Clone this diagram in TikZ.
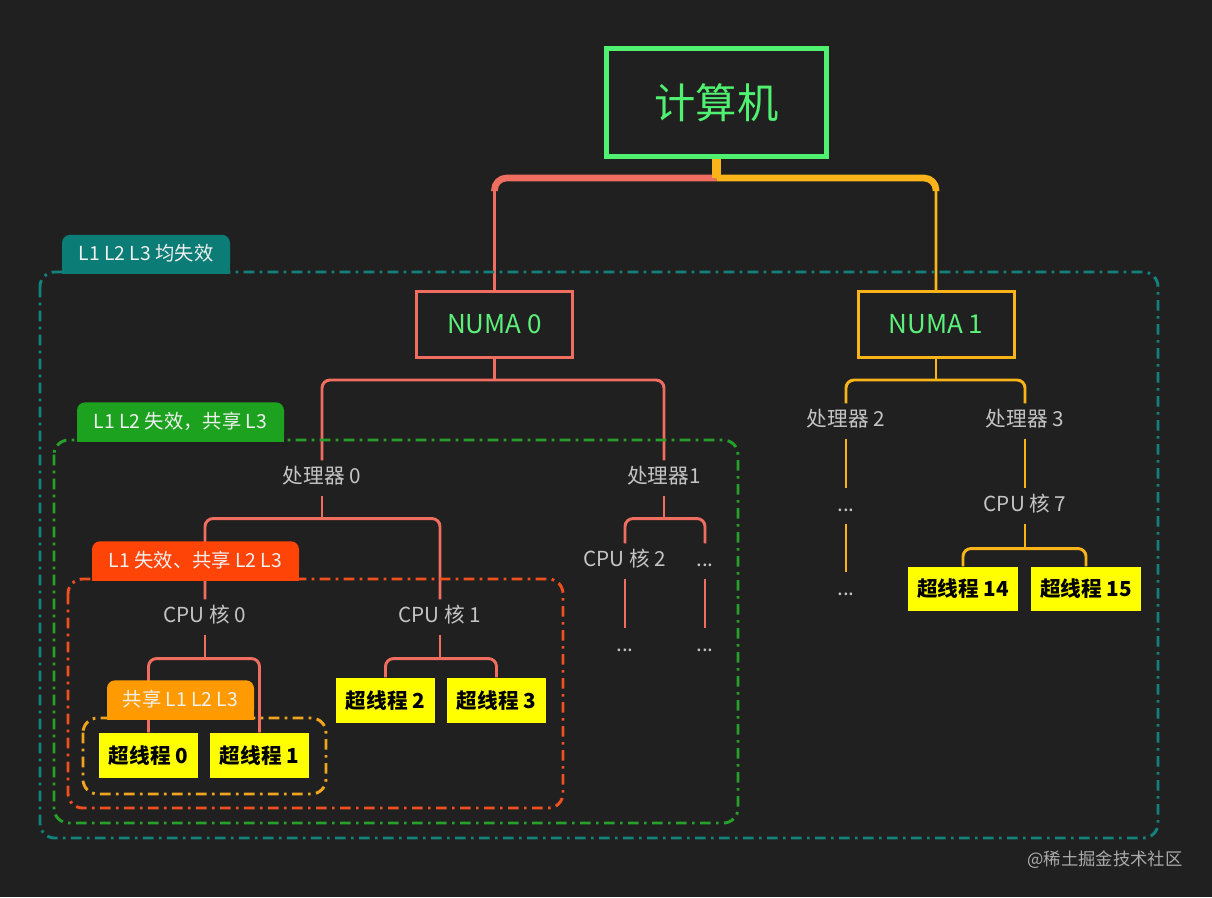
\documentclass[tikz,border=0pt]{standalone}
\usepackage{fontspec}
\setmainfont{Noto Sans CJK SC}
\usepackage{xcolor}
\usepackage{tikz}
\usetikzlibrary{shapes,arrows,positioning,calc}
\definecolor{bgDark}{RGB}{32, 32, 32}
\definecolor{rootGreen}{RGB}{80, 240, 112}
\definecolor{numaGreen}{RGB}{92, 240, 122}
\definecolor{salmonLine}{RGB}{240, 110, 95}
\definecolor{amberLine}{RGB}{250, 180, 25}
\definecolor{tealTab}{RGB}{12, 124, 118}
\definecolor{tealDash}{RGB}{18, 130, 125}
\definecolor{greenTab}{RGB}{28, 162, 30}
\definecolor{greenDash}{RGB}{38, 160, 42}
\definecolor{redTab}{RGB}{255, 68, 8}
\definecolor{redDash}{RGB}{240, 80, 30}
\definecolor{orangeTab}{RGB}{255, 155, 0}
\definecolor{orangeDash}{RGB}{240, 165, 30}
\definecolor{labelGray}{RGB}{196, 196, 196}
\definecolor{tabWhite}{RGB}{240, 240, 240}
\definecolor{htYellow}{RGB}{255, 255, 0}
\definecolor{wmGray}{RGB}{170, 170, 170}

\begin{document}
\begin{tikzpicture}[x=0.75pt, y=-0.75pt, thick]
    \tikzstyle{rootbox} = [rectangle, draw=rootGreen, line width=3.75pt, minimum width=165pt, minimum height=81pt, text=rootGreen, font=\fontsize{31}{36}\selectfont]
    \tikzstyle{numabox} = [rectangle, line width=2.25pt, minimum width=117pt, minimum height=49.5pt, text=numaGreen, font=\fontsize{19.5}{23}\selectfont]
    \tikzstyle{itemtext} = [text=labelGray, font=\fontsize{15.5}{18}\selectfont, minimum height=25.5pt, inner sep=0pt, text height=11pt, text depth=3pt]
    \tikzstyle{htbox} = [rectangle, fill=htYellow, text=black, font=\bfseries\fontsize{15.5}{18}\selectfont, minimum width=74.25pt, minimum height=33.75pt, inner sep=0pt]
    \tikzstyle{cachetab} = [rectangle, rounded corners=6pt, text=tabWhite, font=\fontsize{14.5}{17}\selectfont, minimum height=28pt, inner sep=0pt]
    \tikzstyle{cacheframe} = [line width=2.2pt, rounded corners=11pt, dash pattern=on 8pt off 4pt on 2pt off 4pt]
    \tikzstyle{link} = [draw, line width=2.2pt, rounded corners=6pt]

    \fill [bgDark] (0,0) rectangle (1212,897);
    \useasboundingbox (0,0) rectangle (1212,897);

    % tree
    \node [rootbox] (root) at (716.5,102.5) {计算机};
    \node [numabox, draw=salmonLine] (numa0) at (494.5,324.5) {NUMA 0};
    \node [numabox, draw=amberLine] (numa1) at (936,324.5) {NUMA 1};

    \node [itemtext] (proc0) at (322,478) {处理器 0};
    \node [itemtext] (proc1) at (664,478) {处理器1};
    \node [itemtext] (proc2) at (846,421) {处理器 2};
    \node [itemtext] (proc3) at (1025,421) {处理器 3};

    \node [itemtext] (core0) at (205,617) {CPU 核 0};
    \node [itemtext] (core1) at (440,617) {CPU 核 1};
    \node [itemtext] (core2) at (625,561) {CPU 核 2};
    \node [itemtext] (core2more) at (705,561) {...};
    \node [itemtext] (core2dots) at (625,646) {...};
    \node [itemtext] (core2moredots) at (705,646) {...};
    \node [itemtext] (proc2dots) at (846,506) {...};
    \node [itemtext] (proc2moredots) at (846,590) {...};
    \node [itemtext] (core7) at (1025,506) {CPU 核 7};

    \node [htbox] (ht0) at (148.5,755.5) {超线程 0};
    \node [htbox] (ht1) at (259.5,755.5) {超线程 1};
    \node [htbox] (ht2) at (385.5,700.5) {超线程 2};
    \node [htbox] (ht3) at (496.5,700.5) {超线程 3};
    \node [htbox, minimum width=82.5pt, minimum height=33pt] (ht14) at (963,589) {超线程 14};
    \node [htbox, minimum width=82.5pt, minimum height=33pt] (ht15) at (1086,589) {超线程 15};

    % root to numa
    \coordinate (rootjoint) at ($(root.south)+(0,19)$);
    \path [link, salmonLine, rounded corners=9pt] (rootjoint) -| (numa0.north);
    \path [link, salmonLine, line width=5pt, rounded corners=9pt] (rootjoint) -| ($(numa0.north |- rootjoint)+(0,13)$);
    \path [link, amberLine, rounded corners=9pt] (rootjoint) -| (numa1.north);
    \path [link, amberLine, line width=5pt, rounded corners=9pt] (rootjoint) -| ($(numa1.north |- rootjoint)+(0,13)$);
    \path [link, amberLine, line width=6.5pt] (root.south) -- (rootjoint);

    % numa 0 side
    \path [link, salmonLine] (numa0.south) -- ++(0,21) coordinate (numa0joint);
    \path [link, salmonLine] (proc0.north) |- (numa0joint) -| (proc1.north);
    \path [link, salmonLine] (proc0.south) -- ++(0,23) coordinate (proc0joint);
    \path [link, salmonLine] (core0.north) |- (proc0joint) -| (core1.north);
    \path [link, salmonLine] (core0.south) -- ++(0,24) coordinate (core0joint);
    \path [link, salmonLine] (ht0.north) |- (core0joint) -| (ht1.north);
    \path [link, salmonLine] (core1.south) -- ++(0,24) coordinate (core1joint);
    \path [link, salmonLine] (ht2.north) |- (core1joint) -| (ht3.north);
    \path [link, salmonLine] (proc1.south) -- ++(0,23) coordinate (proc1joint);
    \path [link, salmonLine] (core2.north) |- (proc1joint) -| (core2more.north);
    \path [link, salmonLine] (core2.south) -- (core2dots.north);
    \path [link, salmonLine] (core2more.south) -- (core2moredots.north);

    % numa 1 side
    \path [link, amberLine] (numa1.south) -- ++(0,21) coordinate (numa1joint);
    \path [link, amberLine] (proc2.north) |- (numa1joint) -| (proc3.north);
    \path [link, amberLine] (proc2.south) -- (proc2dots.north);
    \path [link, amberLine] (proc2dots.south) -- (proc2moredots.north);
    \path [link, amberLine] (proc3.south) -- (core7.north);
    \path [link, amberLine] (core7.south) -- ++(0,25) coordinate (core7joint);
    \path [link, amberLine] (ht14.north) |- (core7joint) -| (ht15.north);

    % cache groups
    \draw [cacheframe, tealDash] (40,272) rectangle (1158,838);
    \draw [cacheframe, greenDash] (54,440) rectangle (738,823);
    \draw [cacheframe, redDash] (68,579) rectangle (563,808);
    \draw [cacheframe, orangeDash] (83,718) rectangle (326,794);

    \fill [tealTab] (62,254) rectangle (230,273.8);
    \node [cachetab, fill=tealTab, minimum width=126pt] (taball) at (146,253.5) {L1 L2 L3 均失效};
    \fill [greenTab] (77,421) rectangle (284,441.8);
    \node [cachetab, fill=greenTab, minimum width=155.25pt] (tabproc) at (180.5,421) {L1 L2 失效，共享 L3};
    \fill [redTab] (92,560) rectangle (299,580.8);
    \node [cachetab, fill=redTab, minimum width=155.25pt] (tabcore) at (195.5,560) {L1 失效、共享 L2 L3};
    \fill [orangeTab] (107,699) rectangle (254,719.8);
    \node [cachetab, fill=orangeTab, minimum width=110.25pt] (tabht) at (180.5,699) {共享 L1 L2 L3};

    \node [text=wmGray, font=\fontsize{13}{16}\selectfont] (watermark) at (1105,860) {@稀土掘金技术社区};
\end{tikzpicture}
\end{document}
